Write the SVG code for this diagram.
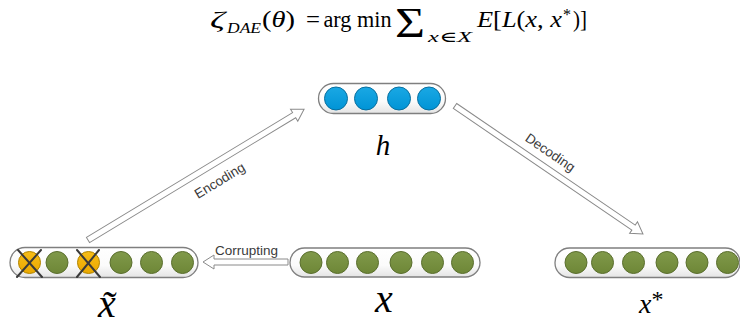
<svg xmlns="http://www.w3.org/2000/svg" width="740" height="329" viewBox="0 0 740 329">
<style>
.cap{fill:url(#capg);stroke:#7f7f7f;stroke-width:1.3}
.g{fill:url(#gg);stroke:#5a6e2e;stroke-width:1}
.b{fill:url(#bg);stroke:#0a6f9e;stroke-width:1}
.o{fill:url(#og);stroke:#b08400;stroke-width:1}
.cross{stroke:#3a3a3a;stroke-width:2;stroke-linecap:round}
.arrow{fill:#ffffff;stroke:#8a8a8a;stroke-width:1}
.lbl{font-family:"Liberation Sans","Open Sans",sans-serif;font-size:13.5px;fill:#3a3a3a}
.m{font-family:"Liberation Serif","DejaVu Serif",serif;fill:#000}
.it{font-style:italic}
</style>
<defs>
<linearGradient id="capg" x1="0" y1="0" x2="0" y2="1"><stop offset="0" stop-color="#ffffff"/><stop offset="0.6" stop-color="#fbfbfb"/><stop offset="1" stop-color="#e4e4e4"/></linearGradient>
<linearGradient id="gg" x1="0" y1="0" x2="0" y2="1"><stop offset="0" stop-color="#80994a"/><stop offset="1" stop-color="#6e8737"/></linearGradient>
<linearGradient id="bg" x1="0" y1="0" x2="0" y2="1"><stop offset="0" stop-color="#1aa8e4"/><stop offset="1" stop-color="#0094d6"/></linearGradient>
<linearGradient id="og" x1="0" y1="0" x2="0" y2="1"><stop offset="0" stop-color="#f7bd18"/><stop offset="1" stop-color="#eaa800"/></linearGradient>
</defs>

<g id="formula" class="m">
<text x="210" y="27" font-size="23" class="it" textLength="15" lengthAdjust="spacingAndGlyphs">ζ</text>
<text x="227" y="33" font-size="15" class="it" textLength="34" lengthAdjust="spacingAndGlyphs">DAE</text>
<text x="262" y="27" font-size="23" textLength="33" lengthAdjust="spacingAndGlyphs">(<tspan class="it">θ</tspan>)</text>
<text x="306" y="27" font-size="23" textLength="14" lengthAdjust="spacingAndGlyphs">=</text>
<text x="323.5" y="27" font-size="23" textLength="68" lengthAdjust="spacingAndGlyphs">arg min</text>
<text x="395" y="37" font-size="42" textLength="30" lengthAdjust="spacingAndGlyphs">Σ</text>
<text x="428" y="42" font-size="15" class="it" textLength="44" lengthAdjust="spacingAndGlyphs">x<tspan font-style="normal">∈</tspan>X</text>
<text x="477" y="27" font-size="23" textLength="85" lengthAdjust="spacingAndGlyphs"><tspan class="it">E</tspan>[<tspan class="it">L</tspan>(<tspan class="it">x</tspan>, <tspan class="it">x</tspan></text>
<text x="563" y="20" font-size="16">*</text>
<text x="573" y="27" font-size="23" textLength="14" lengthAdjust="spacingAndGlyphs">)]</text>
</g>

<g id="connectors">
<g id="encoding">
<polygon class="arrow" transform="translate(88,240) rotate(-31.2)" points="0,-3 241,-3 241,-7 252.6,0 241,7 241,3 0,3"/>
<text class="lbl" transform="translate(220,181) rotate(-31.2)" x="0" y="4" text-anchor="middle">Encoding</text>
</g>
<g id="decoding">
<polygon class="arrow" transform="translate(455,106) rotate(34.25)" points="0,-3 216,-3 216,-7 227.4,0 216,7 216,3 0,3"/>
<text class="lbl" transform="translate(550,153) rotate(34.25)" x="0" y="4" text-anchor="middle">Decoding</text>
</g>
<g id="corrupting">
<polygon class="arrow" transform="translate(288,262) rotate(180)" points="0,-3 74,-3 74,-7 85,0 74,7 74,3 0,3"/>
<text class="lbl" x="246.5" y="255" text-anchor="middle">Corrupting</text>
</g>
</g>

<g id="node-h">
<rect class="cap" x="318.5" y="83.5" width="127" height="30" rx="15"/>
<circle class="b" cx="336" cy="98.5" r="11.5"/>
<circle class="b" cx="366" cy="98.5" r="11.5"/>
<circle class="b" cx="399" cy="98.5" r="11.5"/>
<circle class="b" cx="429" cy="98.5" r="11.5"/>
<text class="m it" x="383" y="155" font-size="29" text-anchor="middle">h</text>
</g>

<g id="node-xtilde">
<rect class="cap" x="10" y="247.5" width="188" height="30" rx="15"/>
<circle class="o" cx="29.5" cy="262.5" r="11"/>
<circle class="g" cx="57" cy="262.5" r="11"/>
<circle class="o" cx="88.5" cy="262.5" r="11"/>
<circle class="g" cx="121" cy="262.5" r="11"/>
<circle class="g" cx="151.5" cy="262.5" r="11"/>
<circle class="g" cx="182.5" cy="262.5" r="11"/>
<line class="cross" x1="18" y1="250" x2="42" y2="277"/>
<line class="cross" x1="41" y1="250" x2="17" y2="277"/>
<line class="cross" x1="77" y1="250" x2="100" y2="277"/>
<line class="cross" x1="99" y1="250" x2="77" y2="277"/>
<text class="m it" x="107" y="317" font-size="40" text-anchor="middle">x̃</text>
</g>

<g id="node-x">
<rect class="cap" x="290" y="248" width="190" height="29" rx="14.5"/>
<circle class="g" cx="311" cy="262.5" r="11"/>
<circle class="g" cx="337.5" cy="262.5" r="11"/>
<circle class="g" cx="367.5" cy="262.5" r="11"/>
<circle class="g" cx="401" cy="262.5" r="11"/>
<circle class="g" cx="432.5" cy="262.5" r="11"/>
<circle class="g" cx="462.5" cy="262.5" r="11"/>
<text class="m it" x="384" y="312" font-size="40" text-anchor="middle">x</text>
</g>

<g id="node-xstar">
<rect class="cap" x="555" y="248" width="185" height="29.5" rx="14.5"/>
<circle class="g" cx="576" cy="262.5" r="11"/>
<circle class="g" cx="602.5" cy="262.5" r="11"/>
<circle class="g" cx="633.5" cy="262.5" r="11"/>
<circle class="g" cx="667" cy="262.5" r="11"/>
<circle class="g" cx="697" cy="262.5" r="11"/>
<circle class="g" cx="727.5" cy="262.5" r="11"/>
<text class="m it" x="639" y="313" font-size="28">x<tspan font-style="normal" font-size="24" dy="-6">*</tspan></text>
</g>
</svg>
